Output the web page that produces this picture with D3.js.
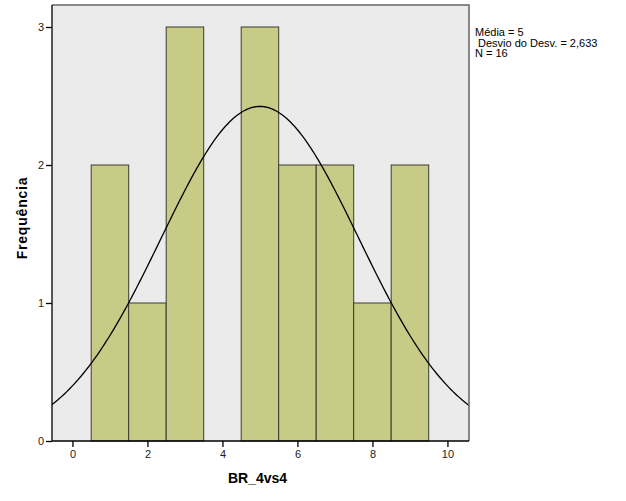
<!DOCTYPE html>
<html>
<head>
<meta charset="utf-8">
<script src="https://cdn.jsdelivr.net/npm/d3@7"></script>
<style>
  body { margin: 0; background: #fff; }
  svg { display: block; font-family: "Liberation Sans", Arial, sans-serif; }
</style>
</head>
<body>
<script>
// histogram bins (centre values) and their counts
const binCenters = [1, 2, 3, 4, 5, 6, 7, 8, 9];
const counts = [2, 1, 3, 0, 3, 2, 2, 1, 2];
const xTicks = [0, 2, 4, 6, 8, 10];
const yTicks = [0, 1, 2, 3];
const statsLines = ["Média = 5", " Desvio do Desv. = 2,633", "N = 16"];
const mean = 5, sd = 2.633, n = 16;

const width = 626, height = 501;
const plotL = 52, plotR = 469, plotT = 5, plotB = 441;

const x = d3.scaleLinear().domain([-0.545, 10.575]).range([plotL, plotR]);
const y = d3.scaleLinear().domain([0, 3]).range([plotB, 27]);

const svg = d3.select("body").append("svg")
    .attr("width", width)
    .attr("height", height);

svg.append("defs").append("clipPath").attr("id", "plot")
  .append("rect")
    .attr("x", plotL).attr("y", plotT)
    .attr("width", plotR - plotL).attr("height", plotB - plotT);

// plot background
svg.append("rect")
    .attr("x", plotL).attr("y", plotT)
    .attr("width", plotR - plotL).attr("height", plotB - plotT)
    .attr("fill", "#ebebeb");

// bars
svg.append("g")
  .selectAll("rect")
  .data(binCenters.map((c, i) => ({c, v: counts[i]})).filter(d => d.v > 0))
  .join("rect")
    .attr("x", d => x(d.c - 0.5))
    .attr("y", d => y(d.v))
    .attr("width", d => x(d.c + 0.5) - x(d.c - 0.5))
    .attr("height", d => y(0) - y(d.v))
    .attr("fill", "#c8cb86")
    .attr("stroke", "#3c3c30")
    .attr("stroke-width", 1);

// fitted normal curve
const pdf = t => n * 1 * Math.exp(-0.5 * ((t - mean) / sd) ** 2) / (sd * Math.sqrt(2 * Math.PI));
const curveX = d3.range(-0.6, 10.65, 0.05);
const line = d3.line().x(d => x(d)).y(d => y(pdf(d)));
svg.append("path")
    .datum(curveX)
    .attr("clip-path", "url(#plot)")
    .attr("d", line)
    .attr("fill", "none")
    .attr("stroke", "#000")
    .attr("stroke-width", 1.3);

// frame: top and right grey
svg.append("path")
    .attr("d", `M${plotL},${plotT}H${plotR}V${plotB}`)
    .attr("fill", "none")
    .attr("stroke", "#666")
    .attr("stroke-width", 1.5);

// axes
const xAxis = svg.append("g")
    .attr("transform", `translate(0,${plotB})`)
    .call(d3.axisBottom(x).tickValues(xTicks).tickFormat(d3.format("d"))
      .tickSize(6).tickPadding(3).tickSizeOuter(0));
const yAxis = svg.append("g")
    .attr("transform", `translate(${plotL},0)`)
    .call(d3.axisLeft(y).tickValues(yTicks).tickFormat(d3.format("d"))
      .tickSize(6).tickPadding(2).tickSizeOuter(0));

[xAxis, yAxis].forEach(a => {
  a.select(".domain").attr("stroke", "#000").attr("stroke-width", 1.3);
  a.selectAll(".tick line").attr("stroke", "#000").attr("stroke-width", 1.3);
  a.selectAll(".tick text").attr("font-size", 11).attr("fill", "#222")
    .attr("font-family", "Liberation Sans, Arial, sans-serif");
});
xAxis.select(".domain").attr("d", `M${plotL},0H${plotR}`);
yAxis.select(".domain").attr("d", `M0,${plotT}V${plotB}`);

// axis titles
svg.append("text")
    .attr("x", 228).attr("y", 483)
    .attr("font-size", 14).attr("font-weight", "bold")
    .text("BR_4vs4");
svg.append("text")
    .attr("transform", `translate(27,218) rotate(-90)`)
    .attr("text-anchor", "middle")
    .attr("font-size", 14).attr("font-weight", "bold")
    .attr("letter-spacing", 0.8)
    .text("Frequência");

// stats block
svg.append("g")
  .selectAll("text")
  .data(statsLines)
  .join("text")
    .attr("x", 475)
    .attr("y", (d, i) => 36 + i * 10.5)
    .attr("font-size", 11)
    .style("white-space", "pre")
    .text(d => d);
</script>
</body>
</html>
